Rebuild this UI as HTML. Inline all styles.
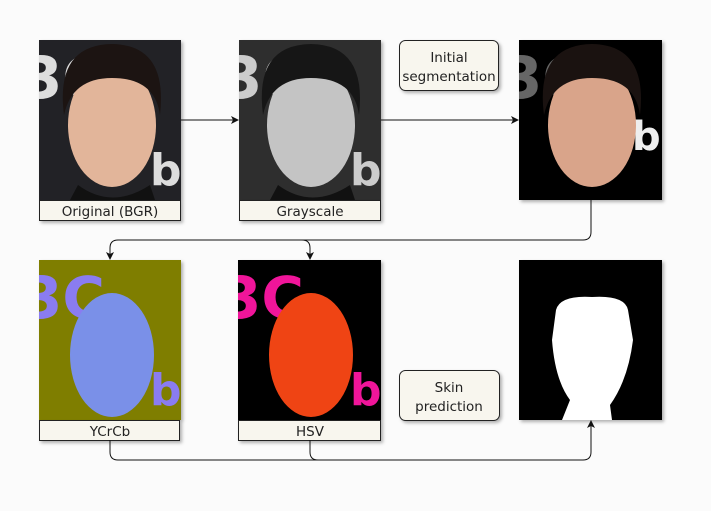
<!DOCTYPE html>
<html><head><style>body{margin:0;background:#fbfbfb}svg{display:block}text{font-family:"DejaVu Sans","Liberation Sans",sans-serif;font-size:13.5px;fill:#222}</style></head>
<body>
<svg width="711" height="511" viewBox="0 0 711 511">
<defs>
<marker id="a" markerWidth="8" markerHeight="8" refX="7" refY="4" orient="auto" markerUnits="userSpaceOnUse"><path d="M0,0 L8,4 L0,8 L2,4z" fill="#111"/></marker>
<filter id="s"><feDropShadow dx="2" dy="2" stdDeviation="1.5" flood-opacity="0.3"/></filter>
<clipPath id="c1"><rect x="39" y="40" width="142" height="160"/></clipPath>
<clipPath id="c2"><rect x="239" y="40" width="142" height="160"/></clipPath>
<clipPath id="c3"><rect x="519" y="40" width="143" height="160"/></clipPath>
<clipPath id="c4"><rect x="39" y="260" width="142" height="160"/></clipPath>
<clipPath id="c5"><rect x="238" y="260" width="143" height="160"/></clipPath>
</defs>
<g filter="url(#s)">
<rect x="39" y="40" width="142" height="160" fill="#232327"/>
<rect x="239" y="40" width="142" height="160" fill="#2e2e2e"/>
<rect x="519" y="40" width="143" height="160" fill="#000"/>
<rect x="39" y="260" width="142" height="160" fill="#7f7e00"/>
<rect x="238" y="260" width="143" height="160" fill="#000"/>
<rect x="519" y="260" width="143" height="160" fill="#000"/>
</g>
<!-- Original -->
<g clip-path="url(#c1)">
<text x="22" y="98" style="font-size:58px;fill:#ddd;font-weight:bold">3C</text>
<text x="150" y="185" style="font-size:44px;fill:#ddd;font-weight:bold">bi</text>
<path d="M78,185 Q112,210 150,185 L155,200 L70,200z" fill="#111"/>
<ellipse cx="112" cy="125" rx="44" ry="62" fill="#e2b59a"/>
<path d="M64,115 Q55,45 112,44 Q168,45 160,115 Q155,78 112,78 Q72,78 64,115z" fill="#1c1412"/>
</g>
<!-- Gray -->
<g clip-path="url(#c2)">
<text x="222" y="98" style="font-size:58px;fill:#ccc;font-weight:bold">3C</text>
<text x="350" y="185" style="font-size:44px;fill:#ccc;font-weight:bold">bi</text>
<path d="M278,185 Q312,210 350,185 L355,200 L270,200z" fill="#111"/>
<ellipse cx="311" cy="125" rx="44" ry="62" fill="#c4c4c4"/>
<path d="M263,115 Q254,45 311,44 Q367,45 359,115 Q354,78 311,78 Q271,78 263,115z" fill="#161616"/>
</g>
<!-- Segmentation -->
<g clip-path="url(#c3)">
<text x="502" y="98" style="font-size:58px;fill:#666;font-weight:bold">3C</text>
<text x="632" y="150" style="font-size:40px;fill:#eee;font-weight:bold">bi</text>
<ellipse cx="592" cy="125" rx="44" ry="62" fill="#d9a48a"/>
<path d="M544,115 Q535,45 592,44 Q648,45 640,115 Q635,78 592,78 Q552,78 544,115z" fill="#1a1210"/>
</g>
<!-- YCrCb -->
<g clip-path="url(#c4)">
<text x="22" y="318" style="font-size:58px;fill:#8a7cf0;font-weight:bold">3C</text>
<text x="150" y="405" style="font-size:44px;fill:#8a7cf0;font-weight:bold">bi</text>
<ellipse cx="112" cy="355" rx="42" ry="62" fill="#7a90e8"/>
</g>
<!-- HSV -->
<g clip-path="url(#c5)">
<text x="221" y="318" style="font-size:58px;fill:#f0159a;font-weight:bold">3C</text>
<text x="350" y="405" style="font-size:44px;fill:#f0159a;font-weight:bold">bi</text>
<ellipse cx="311" cy="355" rx="42" ry="62" fill="#ef4414"/>
</g>
<!-- Skin -->
<path d="M556,310 Q560,295 592,297 Q625,295 628,310 L633,340 Q628,380 610,405 L612,420 L562,420 L570,400 Q555,380 552,340z" fill="#fff"/>
<!-- labels -->
<g filter="url(#s)" fill="#f8f6ee" stroke="#222" stroke-width="1">
<rect x="39.5" y="200.5" width="141" height="20"/>
<rect x="239.5" y="200.5" width="141" height="20"/>
<rect x="39.5" y="420.5" width="140" height="20"/>
<rect x="238.5" y="420.5" width="142" height="20"/>
<rect x="399.5" y="40.5" width="99" height="50" rx="6"/>
<rect x="399.5" y="370.5" width="100" height="50" rx="6"/>
</g>
<g text-anchor="middle">
<text x="110" y="216">Original (BGR)</text>
<text x="310" y="216">Grayscale</text>
<text x="110" y="436">YCrCb</text>
<text x="310" y="436">HSV</text>
<text x="449" y="62">Initial</text>
<text x="449" y="81">segmentation</text>
<text x="449" y="392">Skin</text>
<text x="449" y="411">prediction</text>
</g>
<g fill="none" stroke="#111" stroke-width="1">
<path d="M181,120 H238" marker-end="url(#a)"/>
<path d="M381,120 H518" marker-end="url(#a)"/>
<path d="M591,200 V232 Q591,240 583,240 H118 Q110,240 110,248 V259" marker-end="url(#a)"/>
<path d="M302,240 Q310,240 310,248 V259" marker-end="url(#a)"/>
<path d="M110,440 V452 Q110,460 118,460 H583 Q591,460 591,452 V421" marker-end="url(#a)"/>
<path d="M310,440 V452 Q310,460 318,460"/>
</g>
</svg>
</body></html>
